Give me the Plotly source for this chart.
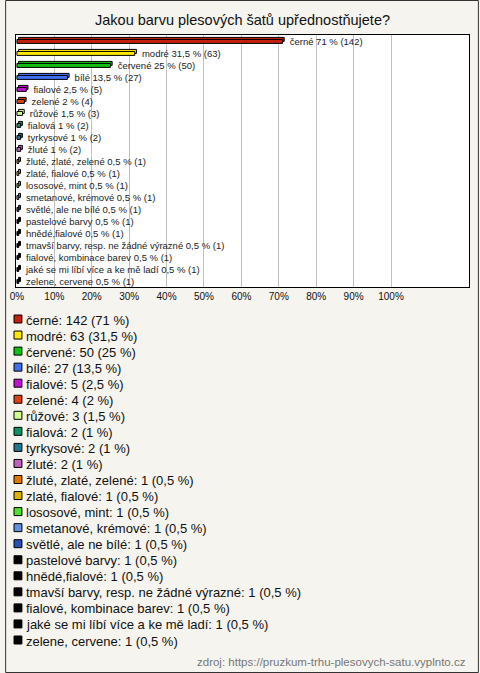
import plotly.graph_objects as go

categories = ["černé", "modré", "červené", "bílé", "fialové", "zelené", "růžové", "fialová",
              "tyrkysové", "žluté", "žluté, zlaté, zelené", "zlaté, fialové", "lososové, mint",
              "smetanové, krémové", "světlé, ale ne bílé", "pastelové barvy", "hnědé,fialové",
              "tmavší barvy, resp. ne žádné výrazné", "fialové, kombinace barev",
              "jaké se mi líbí více a ke mě ladí", "zelene, cervene"]
counts = [142, 63, 50, 27, 5, 4, 3, 2, 2, 2, 1, 1, 1, 1, 1, 1, 1, 1, 1, 1, 1]
percents = [71, 31.5, 25, 13.5, 2.5, 2, 1.5, 1, 1, 1, 0.5, 0.5, 0.5, 0.5, 0.5, 0.5, 0.5, 0.5, 0.5, 0.5, 0.5]
colors = ["#C42010", "#FFE800", "#10C010", "#4070F0", "#C010D0", "#E04010", "#D0FF90", "#109060",
          "#207890", "#C060C0", "#E07800", "#E0B000", "#50E030", "#6090E0", "#2850B0",
          "#000000", "#000000", "#000000", "#000000", "#000000", "#000000"]
tick_vals = [0, 10, 20, 30, 40, 50, 60, 70, 80, 90, 100]
tick_text = [f"{v}%" for v in tick_vals]
title_text = "Jakou barvu plesových šatů upřednostňujete?"
source_text = "zdroj: https://pruzkum-trhu-plesovych-satu.vyplnto.cz"


def fmt(p):
    s = f"{p:g}".replace(".", ",")
    return s


bar_labels = ["\u00a0\u00a0\u2009" + f"{c} {fmt(p)} % ({n})" for c, p, n in zip(categories, percents, counts)]
legend_labels = [f"{c}: {n} ({fmt(p)} %)" for c, p, n in zip(categories, percents, counts)]

W, H = 480, 673
L, R, T, B = 11, 470, 35, 287
pw, ph = R - L, B - T


def px(x):
    return (x - L) / pw


def py(y):
    return (B - y) / ph


FONT = "Liberation Sans, Arial, sans-serif"

fig = go.Figure()
# back face of the pseudo-3D bar
fig.add_trace(go.Bar(
    x=percents, y=categories, orientation="h", base=0.45,
    marker=dict(color=colors, line=dict(color="#000000", width=1)),
    width=0.33, offset=-0.30,
    hoverinfo="skip", showlegend=False,
))
# front face
fig.add_trace(go.Bar(
    x=percents, y=categories, orientation="h",
    marker=dict(color=colors, line=dict(color="#000000", width=1)),
    width=0.33, offset=-0.13,
    text=bar_labels, textposition="outside", cliponaxis=False, constraintext="none",
    textfont=dict(family=FONT, size=9.5, color="#222222"),
    hoverinfo="skip", showlegend=False,
))

shapes = []
annotations = []
# outer frame
shapes.append(dict(type="rect", xref="paper", yref="paper",
                   x0=px(0.5), x1=px(W - 0.5), y0=py(H - 0.5), y1=py(0.5),
                   line=dict(color="#333333", width=1), fillcolor="rgba(0,0,0,0)", layer="below"))

# legend
for i, (lab, col) in enumerate(zip(legend_labels, colors)):
    yc = 321 + i * 16.05
    shapes.append(dict(type="rect", xref="paper", yref="paper",
                       x0=px(9), x1=px(17), y0=py(yc + 2), y1=py(yc - 6),
                       line=dict(color="#000000", width=1), fillcolor=col))
    annotations.append(dict(xref="paper", yref="paper", x=px(19), y=py(yc - 1),
                            text=lab, showarrow=False, xanchor="left", yanchor="middle",
                            font=dict(family=FONT, size=13, color="#111111")))

annotations.append(dict(xref="paper", yref="paper", x=px(469), y=py(662),
                        text=source_text, showarrow=False, xanchor="right", yanchor="middle",
                        font=dict(family=FONT, size=11.5, color="#777777")))
annotations.append(dict(xref="paper", yref="paper", x=px(240), y=py(20),
                        text=title_text, showarrow=False, xanchor="center", yanchor="middle",
                        font=dict(family=FONT, size=14.5, color="#111111")))

fig.update_layout(
    width=W, height=H,
    margin=dict(l=L, r=W - R, t=T, b=H - B, pad=0),
    paper_bgcolor="#F5F4EE", plot_bgcolor="#FFFFFF",
    shapes=shapes, annotations=annotations,
    showlegend=False,
    barmode="overlay",
)
fig.update_xaxes(range=[-0.25, 120.85], tickvals=tick_vals, ticktext=tick_text,
                 showgrid=True, gridcolor="#C0C0C0", gridwidth=1, zeroline=False,
                 showline=True, linecolor="#000000", linewidth=1, mirror=True,
                 ticks="", tickfont=dict(family=FONT, size=10, color="#111111"),
                 fixedrange=True)
fig.update_yaxes(autorange="reversed", showticklabels=False, showgrid=False, ticks="",
                 showline=True, linecolor="#000000", linewidth=1, mirror=True,
                 fixedrange=True)

fig.write_html("out.html", config={"displayModeBar": False},
               post_script="document.body.style.margin='0';document.body.style.overflow='hidden';")
